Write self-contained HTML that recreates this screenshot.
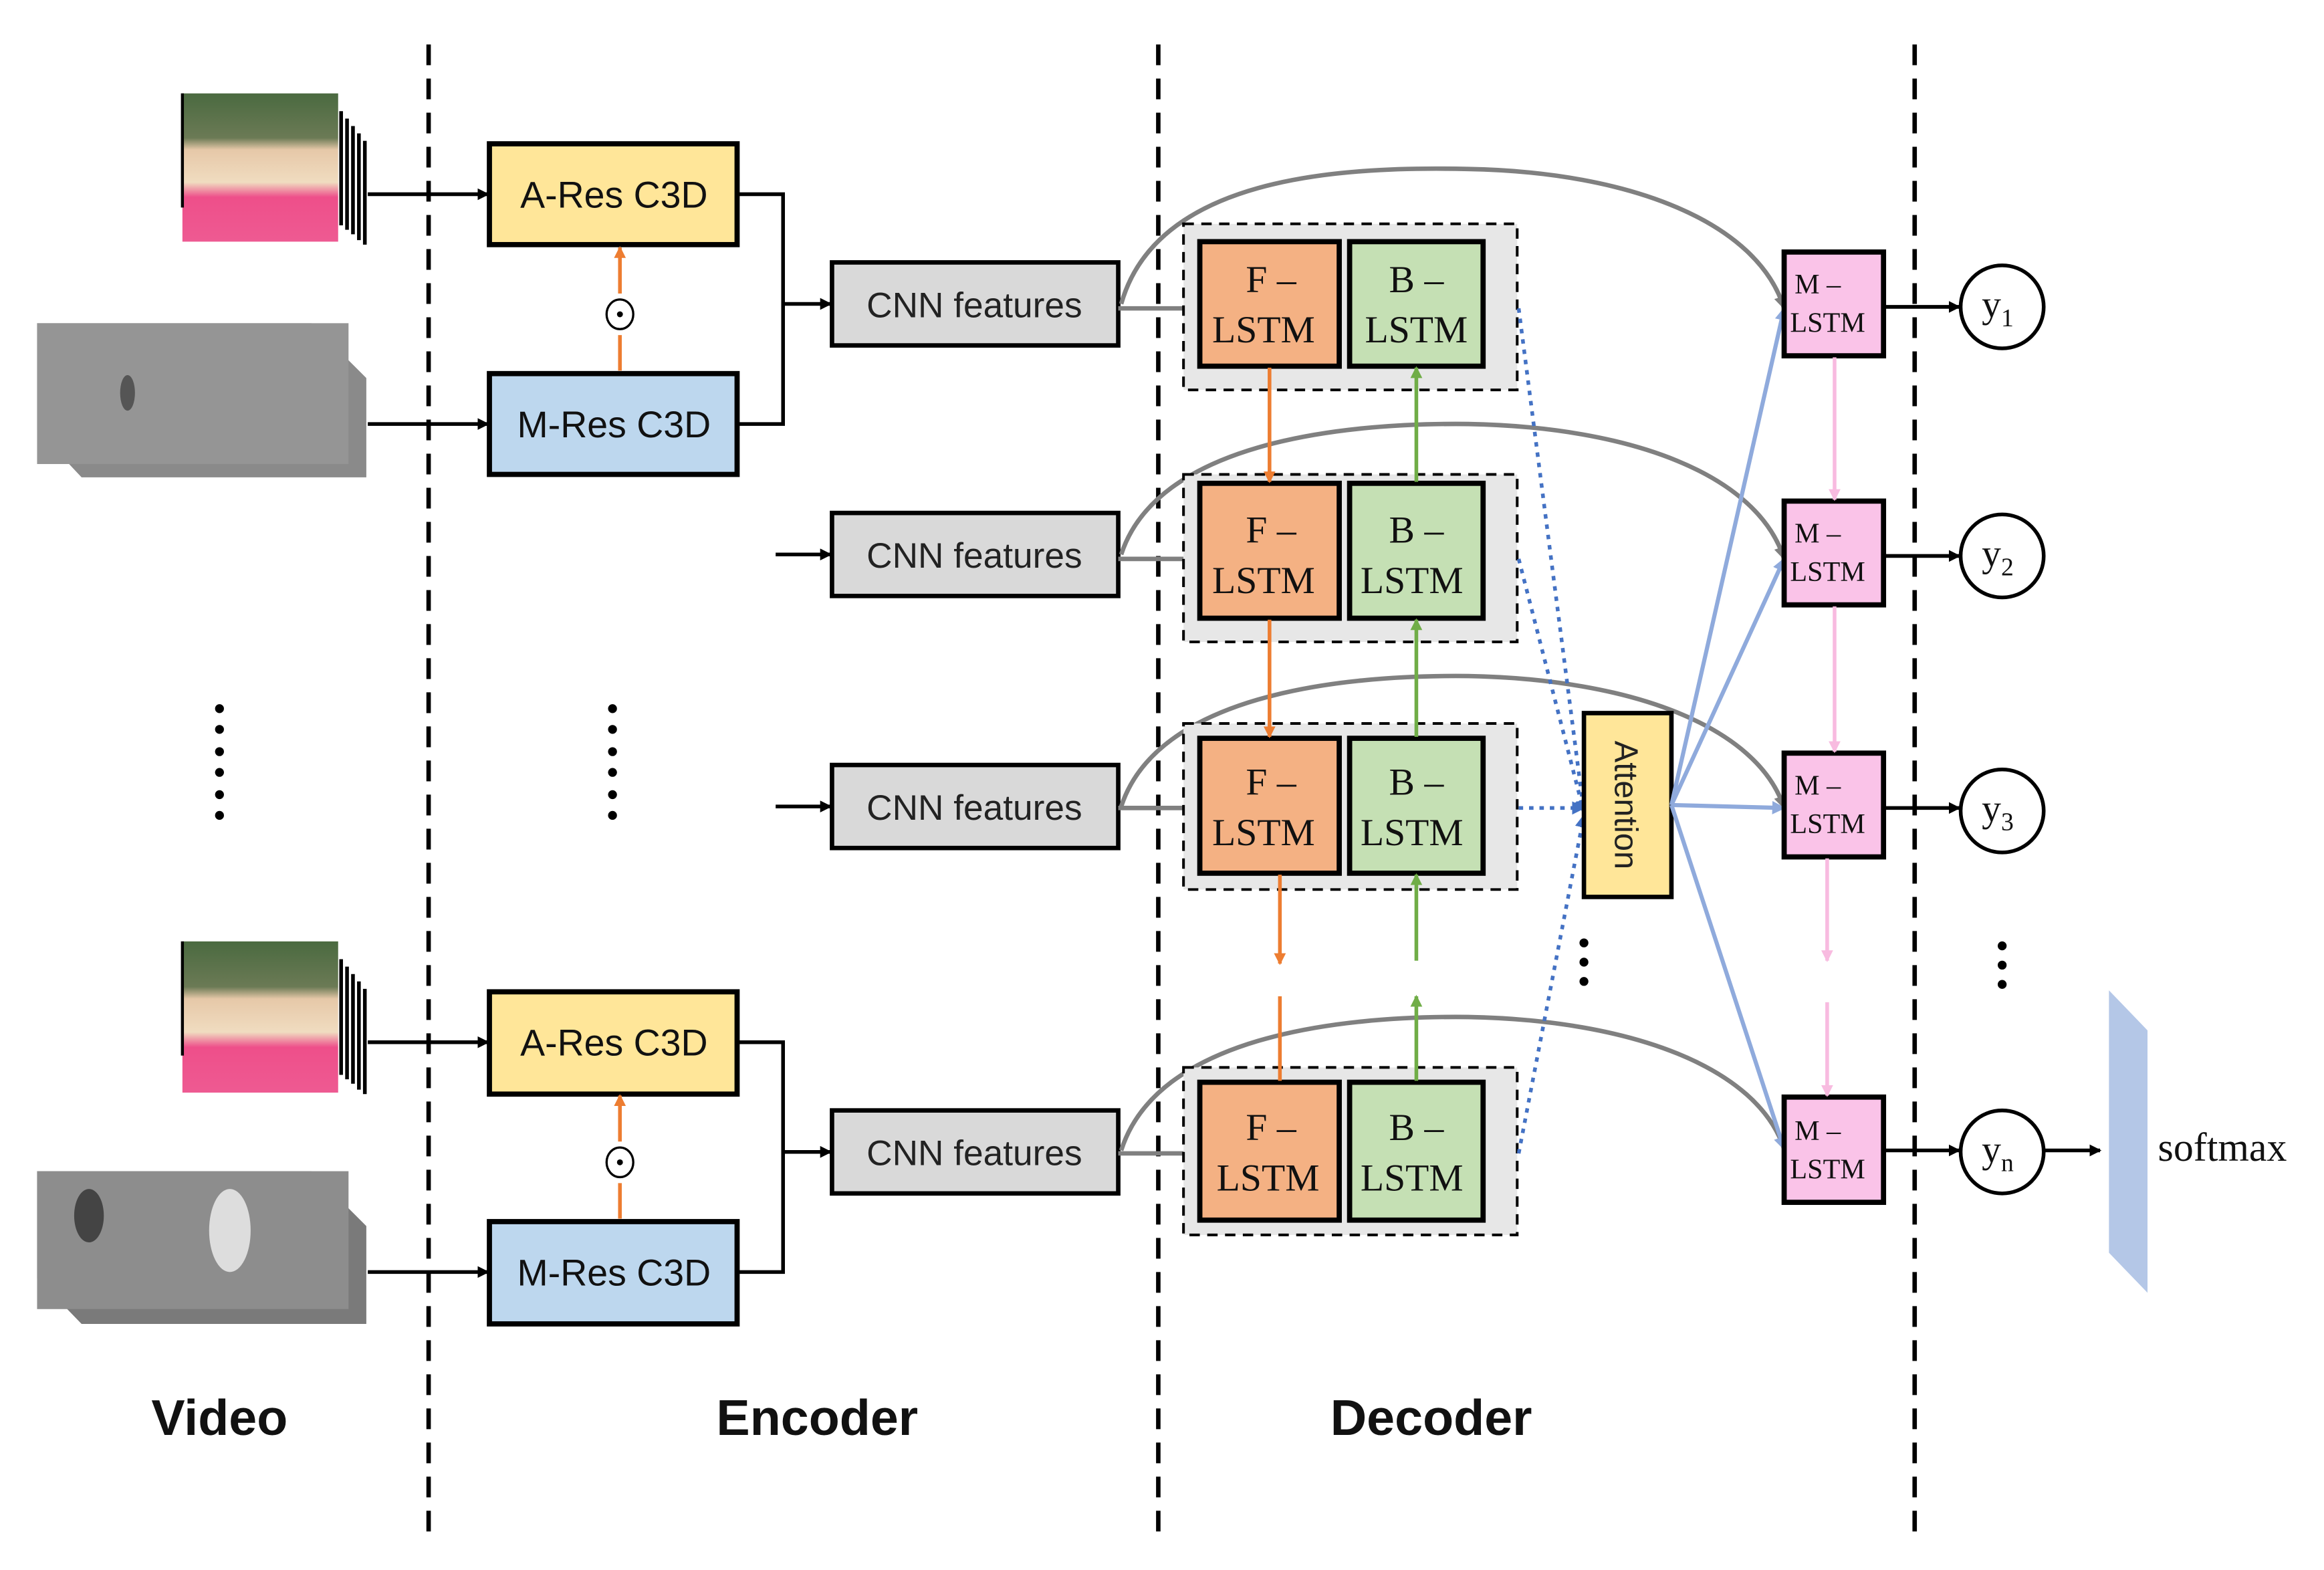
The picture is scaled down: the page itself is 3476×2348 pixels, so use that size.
<!DOCTYPE html>
<html><head><meta charset="utf-8"><style>html,body{margin:0;padding:0;background:#fff}svg{display:block}</style></head><body>
<svg width="3476" height="2348" viewBox="0 0 1567 1059" preserveAspectRatio="none" xmlns="http://www.w3.org/2000/svg">
<defs>
<marker id="ak" markerWidth="8" markerHeight="8" refX="7" refY="4" orient="auto" markerUnits="userSpaceOnUse"><path d="M0,0 L8,4 L0,8z" fill="#000"/></marker>
<marker id="ao" markerWidth="8" markerHeight="8" refX="7" refY="4" orient="auto" markerUnits="userSpaceOnUse"><path d="M0,0 L8,4 L0,8z" fill="#ED7D31"/></marker>
<marker id="ag" markerWidth="8" markerHeight="8" refX="7" refY="4" orient="auto" markerUnits="userSpaceOnUse"><path d="M0,0 L8,4 L0,8z" fill="#70AD47"/></marker>
<marker id="ap" markerWidth="8" markerHeight="8" refX="7" refY="4" orient="auto" markerUnits="userSpaceOnUse"><path d="M0,0 L8,4 L0,8z" fill="#F8BBE0"/></marker>
<marker id="ab" markerWidth="9" markerHeight="9" refX="8" refY="4.5" orient="auto" markerUnits="userSpaceOnUse"><path d="M0,0 L9,4.5 L0,9z" fill="#8FAADC"/></marker>
<marker id="ad" markerWidth="9" markerHeight="9" refX="8" refY="4.5" orient="auto" markerUnits="userSpaceOnUse"><path d="M0,0 L9,4.5 L0,9z" fill="#4472C4"/></marker>
<marker id="ay" markerWidth="9" markerHeight="9" refX="8" refY="4.5" orient="auto" markerUnits="userSpaceOnUse"><path d="M0,0 L9,4.5 L0,9z" fill="#808080"/></marker>
<linearGradient id="rgb" x1="0" y1="0" x2="0" y2="1"><stop offset="0" stop-color="#4a6a40"/><stop offset="0.3" stop-color="#6b7a55"/><stop offset="0.38" stop-color="#e6c8a8"/><stop offset="0.6" stop-color="#f0dcc0"/><stop offset="0.7" stop-color="#ee4f8a"/><stop offset="1" stop-color="#ee5a92"/></linearGradient>
</defs>
<g stroke="#000" stroke-width="3" stroke-dasharray="14,9">
<line x1="289" y1="30" x2="289" y2="1035"/><line x1="781" y1="30" x2="781" y2="1035"/><line x1="1291" y1="30" x2="1291" y2="1035"/>
</g>
<g>
<g stroke="#000" stroke-width="2.5"><line x1="246" y1="95" x2="246" y2="165"/><line x1="242" y1="90" x2="242" y2="162"/><line x1="238" y1="85" x2="238" y2="158"/><line x1="234" y1="80" x2="234" y2="155"/><line x1="230" y1="75" x2="230" y2="152"/></g>
<rect x="123" y="63" width="105" height="100" fill="url(#rgb)"/>
<line x1="123" y1="63" x2="123" y2="140" stroke="#000" stroke-width="2"/>
<g stroke="#000" stroke-width="2.5"><line x1="246" y1="667" x2="246" y2="738"/><line x1="242" y1="662" x2="242" y2="735"/><line x1="238" y1="657" x2="238" y2="731"/><line x1="234" y1="652" x2="234" y2="728"/><line x1="230" y1="647" x2="230" y2="725"/></g>
<rect x="123" y="635" width="105" height="102" fill="url(#rgb)"/>
<line x1="123" y1="635" x2="123" y2="712" stroke="#000" stroke-width="2"/>
<polygon points="25,218 210,218 247,255 247,322 55,322 25,290" fill="#8a8a8a"/>
<rect x="25" y="218" width="210" height="95" fill="#959595"/>
<ellipse cx="86" cy="265" rx="5" ry="12" fill="#555"/>
<polygon points="25,790 210,790 247,827 247,893 55,893 25,862" fill="#7a7a7a"/>
<rect x="25" y="790" width="210" height="93" fill="#8d8d8d"/>
<ellipse cx="60" cy="820" rx="10" ry="18" fill="#444"/><ellipse cx="155" cy="830" rx="14" ry="28" fill="#ddd"/>
</g>
<g stroke="#000" stroke-width="2.5" fill="none">
<line x1="248" y1="131" x2="329" y2="131" marker-end="url(#ak)"/>
<line x1="248" y1="286" x2="329" y2="286" marker-end="url(#ak)"/>
<line x1="248" y1="703" x2="329" y2="703" marker-end="url(#ak)"/>
<line x1="248" y1="858" x2="329" y2="858" marker-end="url(#ak)"/>
<polyline points="497,131 528,131 528,286 497,286"/>
<polyline points="497,703 528,703 528,858 497,858"/>
<line x1="528" y1="205" x2="560" y2="205" marker-end="url(#ak)"/>
<line x1="528" y1="777" x2="560" y2="777" marker-end="url(#ak)"/>
<line x1="523" y1="374" x2="560" y2="374" marker-end="url(#ak)"/>
<line x1="523" y1="544" x2="560" y2="544" marker-end="url(#ak)"/>
</g>
<g stroke="#000" stroke-width="3.5">
<rect x="330" y="97" width="167" height="68" fill="#FFE699"/>
<rect x="330" y="252" width="167" height="68" fill="#BDD7EE"/>
<rect x="330" y="669" width="167" height="69" fill="#FFE699"/>
<rect x="330" y="824" width="167" height="69" fill="#BDD7EE"/>
</g>
<g font-family="Liberation Sans, sans-serif" font-size="25" text-anchor="middle" fill="#111">
<text x="414" y="140">A-Res C3D</text><text x="414" y="295">M-Res C3D</text>
<text x="414" y="712">A-Res C3D</text><text x="414" y="867">M-Res C3D</text>
</g>
<g stroke="#ED7D31" stroke-width="2.5" fill="none">
<line x1="418" y1="250" x2="418" y2="226"/><line x1="418" y1="198" x2="418" y2="167" marker-end="url(#ao)"/>
<line x1="418" y1="822" x2="418" y2="798"/><line x1="418" y1="770" x2="418" y2="739" marker-end="url(#ao)"/>
</g>
<g fill="none" stroke="#000" stroke-width="1.5"><ellipse cx="418" cy="212" rx="9" ry="10"/><ellipse cx="418" cy="784" rx="9" ry="10"/></g>
<circle cx="418" cy="212" r="2" fill="#000"/><circle cx="418" cy="784" r="2" fill="#000"/>
<g stroke="#000" stroke-width="3" fill="#D9D9D9">
<rect x="561" y="177" width="193" height="56"/><rect x="561" y="346" width="193" height="56"/>
<rect x="561" y="516" width="193" height="56"/><rect x="561" y="749" width="193" height="56"/>
</g>
<g font-family="Liberation Sans, sans-serif" font-size="24" text-anchor="middle" fill="#222">
<text x="657" y="214">CNN features</text><text x="657" y="383">CNN features</text>
<text x="657" y="553">CNN features</text><text x="657" y="786">CNN features</text>
</g>
<g stroke="#808080" stroke-width="3" fill="none">
<line x1="754" y1="208" x2="798" y2="208"/><line x1="754" y1="377" x2="798" y2="377"/>
<line x1="754" y1="545" x2="798" y2="545"/><line x1="754" y1="778" x2="798" y2="778"/>
<path d="M756,205 C780,120 900,112 990,114 C1100,116 1185,150 1203,208" marker-end="url(#ay)"/>
<path d="M756,374 C780,300 900,285 990,286 C1100,288 1185,320 1203,377" marker-end="url(#ay)"/>
<path d="M756,544 C780,470 900,455 990,456 C1100,458 1185,490 1203,545" marker-end="url(#ay)"/>
<path d="M756,776 C780,700 900,685 990,686 C1100,688 1185,720 1203,775" marker-end="url(#ay)"/>
</g>
<g fill="#E7E7E7" stroke="#000" stroke-width="1.8" stroke-dasharray="7,5">
<rect x="798" y="151" width="225" height="112"/><rect x="798" y="320" width="225" height="113"/>
<rect x="798" y="488" width="225" height="112"/><rect x="798" y="720" width="225" height="113"/>
</g>
<g stroke="#000" stroke-width="3.5">
<rect x="809" y="163" width="94" height="84" fill="#F4B183"/><rect x="910" y="163" width="90" height="84" fill="#C5E0B4"/>
<rect x="809" y="326" width="94" height="91" fill="#F4B183"/><rect x="910" y="326" width="90" height="91" fill="#C5E0B4"/>
<rect x="809" y="498" width="94" height="91" fill="#F4B183"/><rect x="910" y="498" width="90" height="91" fill="#C5E0B4"/>
<rect x="809" y="730" width="94" height="93" fill="#F4B183"/><rect x="910" y="730" width="90" height="93" fill="#C5E0B4"/>
</g>
<g font-family="Liberation Serif, serif" font-size="26" text-anchor="middle" fill="#111">
<text x="857" y="197">F –</text><text x="852" y="231">LSTM</text><text x="955" y="197">B –</text><text x="955" y="231">LSTM</text>
<text x="857" y="366">F –</text><text x="852" y="400">LSTM</text><text x="955" y="366">B –</text><text x="952" y="400">LSTM</text>
<text x="857" y="536">F –</text><text x="852" y="570">LSTM</text><text x="955" y="536">B –</text><text x="952" y="570">LSTM</text>
<text x="857" y="769">F –</text><text x="855" y="803">LSTM</text><text x="955" y="769">B –</text><text x="952" y="803">LSTM</text>
</g>
<g stroke="#ED7D31" stroke-width="2.5" fill="none">
<line x1="856" y1="248" x2="856" y2="325" marker-end="url(#ao)"/>
<line x1="856" y1="418" x2="856" y2="497" marker-end="url(#ao)"/>
<line x1="863" y1="590" x2="863" y2="650" marker-end="url(#ao)"/>
<line x1="863" y1="672" x2="863" y2="729"/>
</g>
<g stroke="#70AD47" stroke-width="2.5" fill="none">
<line x1="955" y1="325" x2="955" y2="248" marker-end="url(#ag)"/>
<line x1="955" y1="497" x2="955" y2="418" marker-end="url(#ag)"/>
<line x1="955" y1="648" x2="955" y2="590" marker-end="url(#ag)"/>
<line x1="955" y1="729" x2="955" y2="672" marker-end="url(#ag)"/>
</g>
<g stroke="#4472C4" stroke-width="2.5" stroke-dasharray="3,4" fill="none">
<line x1="1024" y1="208" x2="1068" y2="548" marker-end="url(#ad)"/>
<line x1="1024" y1="377" x2="1068" y2="548" marker-end="url(#ad)"/>
<line x1="1024" y1="545" x2="1068" y2="545" marker-end="url(#ad)"/>
<line x1="1024" y1="778" x2="1068" y2="550" marker-end="url(#ad)"/>
</g>
<rect x="1068" y="481" width="59" height="124" fill="#FFE699" stroke="#000" stroke-width="3"/>
<text x="0" y="0" transform="translate(1089,543) rotate(90)" font-family="Liberation Sans, sans-serif" font-size="22" text-anchor="middle" fill="#222">Attention</text>
<g stroke="#8FAADC" stroke-width="2.8" fill="none">
<line x1="1127" y1="543" x2="1203" y2="208" marker-end="url(#ab)"/>
<line x1="1127" y1="543" x2="1203" y2="377" marker-end="url(#ab)"/>
<line x1="1127" y1="543" x2="1203" y2="545" marker-end="url(#ab)"/>
<line x1="1127" y1="543" x2="1203" y2="775" marker-end="url(#ab)"/>
</g>
<g stroke="#000" stroke-width="3.5" fill="#FAC3E8">
<rect x="1203" y="170" width="67" height="70"/><rect x="1203" y="338" width="67" height="70"/>
<rect x="1203" y="508" width="67" height="70"/><rect x="1203" y="740" width="67" height="71"/>
</g>
<g font-family="Liberation Serif, serif" font-size="19" fill="#111">
<text x="1210" y="198">M –</text><text x="1207" y="224">LSTM</text>
<text x="1210" y="366">M –</text><text x="1207" y="392">LSTM</text>
<text x="1210" y="536">M –</text><text x="1207" y="562">LSTM</text>
<text x="1210" y="769">M –</text><text x="1207" y="795">LSTM</text>
</g>
<g stroke="#F8BBE0" stroke-width="2.5" fill="none">
<line x1="1237" y1="241" x2="1237" y2="337" marker-end="url(#ap)"/>
<line x1="1237" y1="409" x2="1237" y2="507" marker-end="url(#ap)"/>
<line x1="1232" y1="579" x2="1232" y2="648" marker-end="url(#ap)"/>
<line x1="1232" y1="676" x2="1232" y2="739" marker-end="url(#ap)"/>
</g>
<g stroke="#000" stroke-width="2.5" fill="none">
<line x1="1270" y1="207" x2="1321" y2="207" marker-end="url(#ak)"/>
<line x1="1270" y1="375" x2="1321" y2="375" marker-end="url(#ak)"/>
<line x1="1270" y1="545" x2="1321" y2="545" marker-end="url(#ak)"/>
<line x1="1270" y1="776" x2="1321" y2="776" marker-end="url(#ak)"/>
<line x1="1378" y1="776" x2="1416" y2="776" marker-end="url(#ak)"/>
<circle cx="1350" cy="207" r="28"/><circle cx="1350" cy="375" r="28"/><circle cx="1350" cy="547" r="28"/><circle cx="1350" cy="777" r="28"/>
</g>
<g font-family="Liberation Serif, serif" font-size="26" fill="#111" text-anchor="middle">
<text x="1347" y="214">y<tspan font-size="17" dy="6">1</tspan></text>
<text x="1347" y="382">y<tspan font-size="17" dy="6">2</tspan></text>
<text x="1347" y="554">y<tspan font-size="17" dy="6">3</tspan></text>
<text x="1347" y="784">y<tspan font-size="17" dy="6">n</tspan></text>
</g>
<polygon points="1422,668 1448,695 1448,872 1422,845" fill="#B4C7E7"/>
<text x="1455" y="783" font-family="Liberation Serif, serif" font-size="27" fill="#111">softmax</text>
<g fill="#000">
<circle cx="148" cy="478" r="3"/><circle cx="148" cy="492" r="3"/><circle cx="148" cy="507" r="3"/><circle cx="148" cy="521" r="3"/><circle cx="148" cy="536" r="3"/><circle cx="148" cy="550" r="3"/>
<circle cx="413" cy="478" r="3"/><circle cx="413" cy="492" r="3"/><circle cx="413" cy="507" r="3"/><circle cx="413" cy="521" r="3"/><circle cx="413" cy="536" r="3"/><circle cx="413" cy="550" r="3"/>
<circle cx="1068" cy="636" r="3"/><circle cx="1068" cy="649" r="3"/><circle cx="1068" cy="662" r="3"/>
<circle cx="1350" cy="638" r="3"/><circle cx="1350" cy="651" r="3"/><circle cx="1350" cy="664" r="3"/>
</g>
<g font-family="Liberation Sans, sans-serif" font-size="34" font-weight="bold" text-anchor="middle" fill="#111">
<text x="148" y="968">Video</text><text x="551" y="968">Encoder</text><text x="965" y="968">Decoder</text>
</g>
</svg>
</body></html>
